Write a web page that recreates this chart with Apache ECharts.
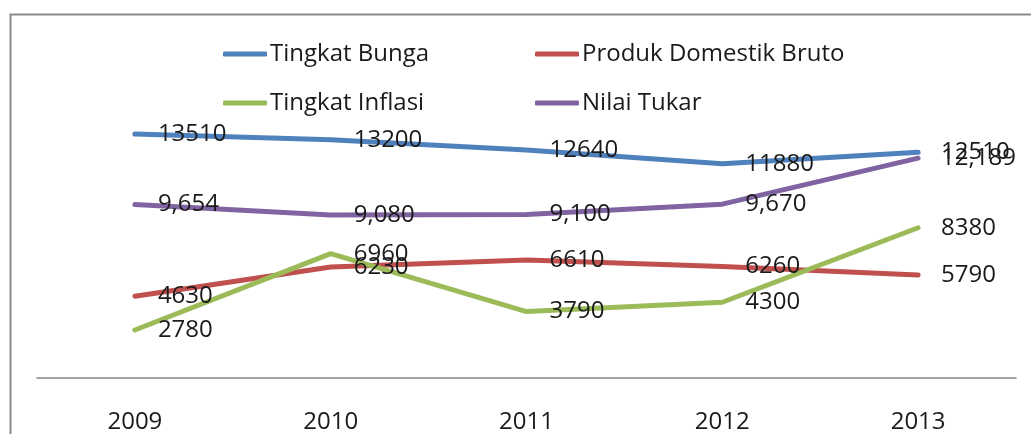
<!DOCTYPE html>
<html>
<head>
<meta charset="utf-8">
<script src="https://cdn.jsdelivr.net/npm/echarts@6/dist/echarts.min.js"></script>
<style>
html,body{margin:0;padding:0;background:#fff;}
#chart{width:1031px;height:434px;}
</style>
</head>
<body>
<div id="chart"></div>
<script>
const years = ['2009', '2010', '2011', '2012', '2013'];
const tingkatBunga = [13510, 13200, 12640, 11880, 12510];
const produkDomestikBruto = [4630, 6230, 6610, 6260, 5790];
const tingkatInflasi = [2780, 6960, 3790, 4300, 8380];
const nilaiTukar = [9654, 9080, 9100, 9670, 12189];

const FONT = '"Open Sans", "Noto Sans", sans-serif';
const colors = {
  bunga: '#4F81BD',
  pdb: '#C0504D',
  inflasi: '#9BBB59',
  tukar: '#8064A2'
};

function fmtComma(v) {
  return String(v).replace(/\B(?=(\d{3})+(?!\d))/g, ',');
}

function makeSeries(name, data, color, comma) {
  return {
    name: name,
    type: 'line',
    data: data,
    symbol: 'circle',
    symbolSize: 0,
    showSymbol: true,
    smooth: false,
    lineStyle: { color: color, width: 5, cap: 'round', join: 'round' },
    itemStyle: { color: color },
    label: {
      show: true,
      position: 'right',
      distance: 23,
      offset: [0, 3],
      color: '#1a1a1a',
      fontFamily: FONT,
      fontSize: 24,
      formatter: p => comma ? fmtComma(p.value) : String(p.value)
    },
    labelLayout: { hideOverlap: false },
    emphasis: { disabled: true },
    animation: false
  };
}

function legendAt(name, color, left, top) {
  return {
    data: [name],
    left: left,
    top: top,
    icon: 'roundRect',
    itemWidth: 44,
    itemHeight: 5,
    itemGap: 0,
    selectedMode: false,
    textStyle: { fontFamily: FONT, fontSize: 24, color: '#1a1a1a', padding: [0, 0, 0, -2] },
    itemStyle: { color: color }
  };
}

const chart = echarts.init(document.getElementById('chart'), null, { renderer: 'canvas' });
chart.setOption({
  backgroundColor: '#ffffff',
  animation: false,
  graphic: [{
    type: 'rect',
    left: 8,
    top: 12,
    shape: { width: 1040, height: 440 },
    style: { fill: 'none', stroke: '#8a8a8a', lineWidth: 2 },
    silent: true
  }],
  legend: [
    legendAt('Tingkat Bunga', colors.bunga, 218, 37),
    legendAt('Produk Domestik Bruto', colors.pdb, 530, 37),
    legendAt('Tingkat Inflasi', colors.inflasi, 218, 86),
    legendAt('Nilai Tukar', colors.tukar, 530, 86)
  ],
  grid: { left: 37, right: 15, top: 95, bottom: 50, containLabel: false },
  xAxis: {
    type: 'category',
    data: years,
    boundaryGap: true,
    axisLine: { show: true, lineStyle: { color: '#868686', width: 1.5 } },
    axisTick: { show: false },
    axisLabel: { fontFamily: FONT, fontSize: 24, color: '#1a1a1a', margin: 32 },
    splitLine: { show: false }
  },
  yAxis: {
    type: 'value',
    min: 150,
    max: 15650,
    show: false,
    splitLine: { show: false }
  },
  series: [
    makeSeries('Tingkat Bunga', tingkatBunga, colors.bunga, false),
    makeSeries('Produk Domestik Bruto', produkDomestikBruto, colors.pdb, false),
    makeSeries('Tingkat Inflasi', tingkatInflasi, colors.inflasi, false),
    makeSeries('Nilai Tukar', nilaiTukar, colors.tukar, true)
  ]
});
</script>
</body>
</html>
